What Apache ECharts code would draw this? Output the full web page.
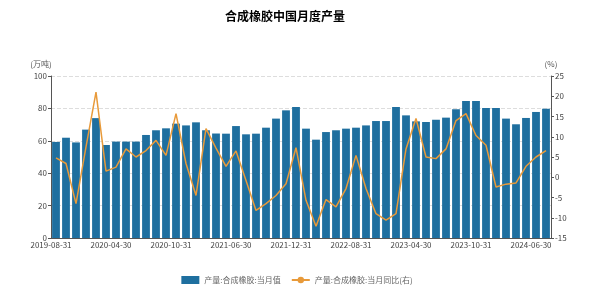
<!DOCTYPE html>
<html>
<head>
<meta charset="utf-8">
<script src="https://cdn.jsdelivr.net/npm/echarts@6/dist/echarts.min.js"></script>
<style>html,body{margin:0;padding:0;background:#fff}#c{width:594px;height:289px}</style>
</head>
<body>
<div id="c"></div>
<script>
var categories = [
  '2019-08-31','2019-09-30','2019-10-31','2019-11-30','2019-12-31',
  '2020-03-31','2020-04-30','2020-05-31','2020-06-30','2020-07-31','2020-08-31','2020-09-30','2020-10-31','2020-11-30','2020-12-31',
  '2021-03-31','2021-04-30','2021-05-31','2021-06-30','2021-07-31','2021-08-31','2021-09-30','2021-10-31','2021-11-30','2021-12-31',
  '2022-03-31','2022-04-30','2022-05-31','2022-06-30','2022-07-31','2022-08-31','2022-09-30','2022-10-31','2022-11-30','2022-12-31',
  '2023-03-31','2023-04-30','2023-05-31','2023-06-30','2023-07-31','2023-08-31','2023-09-30','2023-10-31','2023-11-30','2023-12-31',
  '2024-03-31','2024-04-30','2024-05-31','2024-06-30','2024-07-31'
];
var outputValues = [
  59.3, 61.9, 59.0, 66.9, 74.0,
  57.4, 59.5, 59.5, 59.5, 63.6, 66.5, 67.7, 70.6, 69.5, 71.4,
  66.5, 64.5, 64.4, 69.1, 64.0, 64.4, 68.1, 73.7, 78.8, 80.9,
  67.5, 60.7, 65.4, 66.5, 67.5, 68.1, 69.5, 72.2, 72.2, 80.9,
  75.7, 72.0, 71.6, 73.0, 74.3, 79.4, 84.6, 84.6, 80.2, 80.2,
  73.7, 70.2, 74.1, 77.8, 79.8
];
var yoyValues = [
  4.8, 3.4, -6.5, 7.5, 21.0,
  1.5, 2.5, 7.0, 5.0, 6.6, 9.1, 5.4, 15.7, 3.4, -4.5,
  12.0, 7.2, 2.7, 6.5, -0.8, -8.2, -6.5, -4.5, -1.6, 7.3,
  -5.7, -12.1, -5.5, -7.3, -2.8, 5.4, -2.8, -9.0, -10.6, -9.0,
  7.0, 14.5, 5.0, 4.6, 7.0, 14.0, 15.7, 10.3, 7.9, -2.4,
  -1.7, -1.4, 2.7, 5.0, 6.6
];
var leftTicks = {min: 0, max: 100, interval: 20};
var rightTicks = {min: -15, max: 25, interval: 5};
var seriesNames = ['产量:合成橡胶:当月值', '产量:合成橡胶:当月同比(右)'];
var titleText = '合成橡胶中国月度产量';

var font = 'Noto Sans CJK SC';
var chart = echarts.init(document.getElementById('c'), null, {renderer: 'canvas'});
function showIdx(i){ return i % 6 === 0; }
chart.setOption({
  animation: false,
  title: {
    text: titleText, left: 220, top: 5,
    textStyle: {fontSize: 12, fontWeight: 'bold', color: '#000', fontFamily: font}
  },
  legend: {
    bottom: 0, left: 'center', itemGap: 10, itemWidth: 18, itemHeight: 8,
    textStyle: {fontSize: 8, color: '#666', fontFamily: font},
    data: [
      {name: seriesNames[0], icon: 'rect'},
      {name: seriesNames[1]}
    ]
  },
  grid: {left: 51, right: 43, top: 76, bottom: 51},
  xAxis: {
    type: 'category', data: categories, boundaryGap: true,
    axisLine: {lineStyle: {color: '#555'}},
    axisTick: {interval: function(i){ return showIdx(i); }, length: 3, lineStyle: {color: '#555'}},
    axisLabel: {
      interval: function(i){ return showIdx(i); },
      fontSize: 8, color: '#444', fontFamily: font, margin: 3,
      formatter: function(v){ return '{a|' + v + '}'; },
      rich: {a: {fontSize: 8, color: '#444', fontFamily: font, padding: [0, 10, 0, 0]}}
    }
  },
  yAxis: [
    {
      type: 'value', min: leftTicks.min, max: leftTicks.max, interval: leftTicks.interval,
      name: '(万吨)', nameGap: 8,
      nameTextStyle: {fontSize: 8, color: '#555', fontFamily: font, align: 'center', padding: [0, 20, 0, 0]},
      axisLine: {show: true, lineStyle: {color: '#555'}},
      axisTick: {show: true, length: 3, lineStyle: {color: '#555'}},
      axisLabel: {fontSize: 8, color: '#444', fontFamily: font, margin: 4},
      splitLine: {show: true, lineStyle: {color: '#ddd', type: 'dashed'}}
    },
    {
      type: 'value', min: rightTicks.min, max: rightTicks.max, interval: rightTicks.interval,
      name: '(%)', nameGap: 8,
      nameTextStyle: {fontSize: 8, color: '#555', fontFamily: font, align: 'center'},
      axisLine: {show: true, lineStyle: {color: '#555'}},
      axisTick: {show: true, length: 3, lineStyle: {color: '#555'}},
      axisLabel: {fontSize: 8, color: '#444', fontFamily: font, margin: 4},
      splitLine: {show: false}
    }
  ],
  series: [
    {
      name: seriesNames[0], type: 'bar', yAxisIndex: 0, data: outputValues,
      barCategoryGap: '22%',
      itemStyle: {color: '#1f6f9f'}
    },
    {
      name: seriesNames[1], type: 'line', yAxisIndex: 1, data: yoyValues,
      symbol: 'circle', symbolSize: 5, showSymbol: false,
      lineStyle: {color: '#e89a3a', width: 1.5},
      itemStyle: {color: '#e89a3a'}
    }
  ]
});
</script>
</body>
</html>
